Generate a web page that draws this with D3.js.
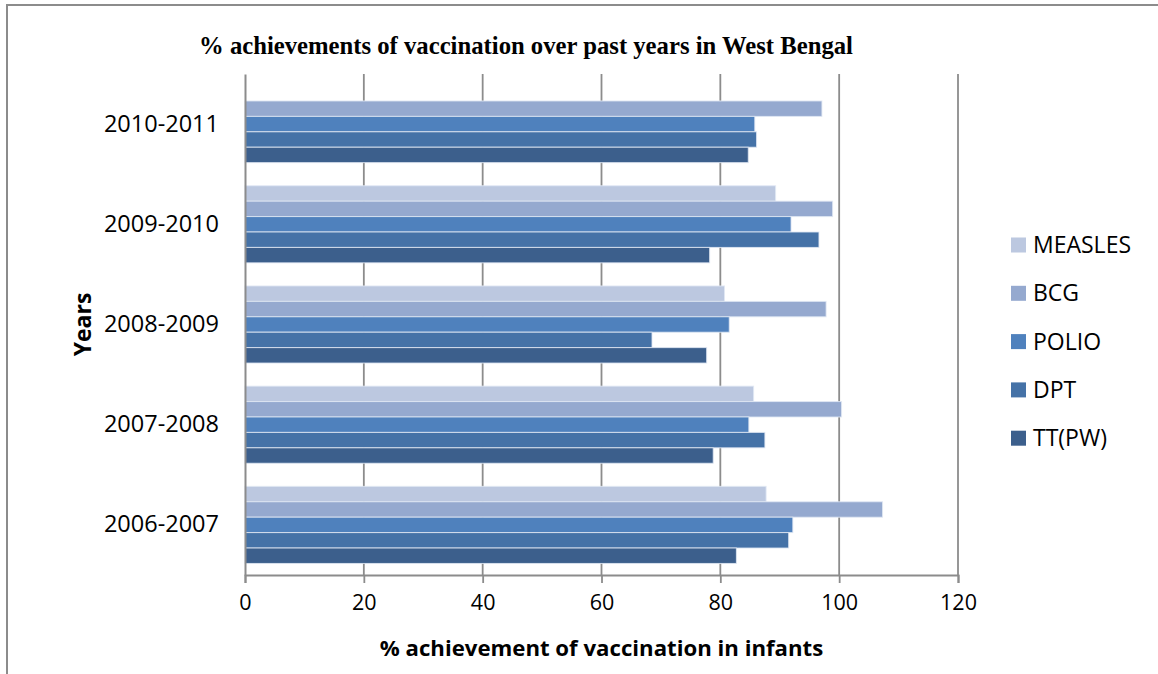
<!DOCTYPE html>
<html>
<head>
<meta charset="utf-8">
<script src="https://cdn.jsdelivr.net/npm/d3@7"></script>
<style>
  html, body { margin: 0; padding: 0; background: #fff; }
  svg { display: block; }
</style>
</head>
<body>
<svg id="chart" width="1158" height="674"></svg>
<script>
// Year groups, listed top to bottom as drawn
const years = ["2010-2011", "2009-2010", "2008-2009", "2007-2008", "2006-2007"];
// Vaccines, listed top to bottom inside each group
const vaccines = ["MEASLES", "BCG", "POLIO", "DPT", "TT(PW)"];

// % achievement per vaccine, in the same order as `years`
const measles = [0, 89.3, 80.7, 85.6, 87.7];
const bcg     = [97.1, 98.9, 97.8, 100.4, 107.3];
const polio   = [85.8, 91.9, 81.5, 84.8, 92.2];
const dpt     = [86.1, 96.6, 68.5, 87.5, 91.5];
const ttpw    = [84.7, 78.2, 77.7, 78.8, 82.7];

const xTicks = [0, 20, 40, 60, 80, 100, 120];
const colors = ["#bcc8e0", "#95a9cf", "#4f81bd", "#4572a7", "#3c5f8c"];

const seriesValues = [measles, bcg, polio, dpt, ttpw];
const rows = years.map((y, i) => ({
  year: y,
  values: vaccines.map((v, j) => ({ vaccine: v, value: seriesValues[j][i] }))
}));

const svg = d3.select("#chart");
const plot = { left: 245, right: 958, top: 74, bottom: 575 };

// Outer frame of the chart
svg.append("rect")
  .attr("x", 7).attr("y", 5)
  .attr("width", 1300).attr("height", 800)
  .attr("fill", "none").attr("stroke", "#8c8c8c").attr("stroke-width", 2);

const x = d3.scaleLinear().domain([0, 120]).range([plot.left, plot.right]);
const y0 = d3.scaleBand().domain(years).range([plot.top, plot.bottom]).padding(0);
const y1 = d3.scaleBand().domain(vaccines).range([0, y0.bandwidth()])
  .paddingInner(0).paddingOuter(0.75);
const color = d3.scaleOrdinal().domain(vaccines).range(colors);

// Vertical gridlines
svg.append("g")
  .selectAll("line")
  .data(xTicks.filter(t => t > 0))
  .join("line")
  .attr("x1", d => x(d)).attr("x2", d => x(d))
  .attr("y1", plot.top).attr("y2", plot.bottom)
  .attr("stroke", "#8c8c8c").attr("stroke-width", 1.8);

// Bars
svg.append("g")
  .selectAll("g")
  .data(rows)
  .join("g")
  .attr("transform", d => `translate(0,${y0(d.year)})`)
  .selectAll("rect")
  .data(d => d.values.filter(v => v.value > 0))
  .join("rect")
  .attr("x", x(0))
  .attr("y", d => y1(d.vaccine))
  .attr("width", d => x(d.value) - x(0))
  .attr("height", y1.bandwidth())
  .attr("fill", d => color(d.vaccine))
  .attr("stroke", "rgba(225,232,243,0.85)")
  .attr("stroke-width", 1);

// X axis
const xAxis = svg.append("g")
  .attr("transform", `translate(0,${plot.bottom})`)
  .call(d3.axisBottom(x).tickValues(xTicks).tickSize(8).tickPadding(12).tickFormat(d3.format("d")));
xAxis.select(".domain").attr("stroke", "#8c8c8c").attr("stroke-width", 2);
xAxis.selectAll(".tick line").attr("stroke", "#8c8c8c").attr("stroke-width", 1.8);
xAxis.selectAll(".tick text")
  .attr("fill", "#000")
  .style("font-family", "'Open Sans', sans-serif")
  .style("font-size", "21.5px");

// Y axis
const yAxis = svg.append("g")
  .attr("transform", `translate(${plot.left},0)`)
  .call(d3.axisLeft(y0).tickSize(0).tickPadding(26));
yAxis.select(".domain").attr("stroke", "#8c8c8c").attr("stroke-width", 2);
yAxis.selectAll(".tick text")
  .attr("fill", "#000")
  .style("font-family", "'Open Sans', sans-serif")
  .style("font-size", "23.5px");

// Title
svg.append("text")
  .attr("x", 526).attr("y", 54)
  .attr("text-anchor", "middle")
  .style("font-family", "'Liberation Serif', 'Times New Roman', serif")
  .style("font-weight", "bold")
  .style("font-size", "24.7px")
  .text("% achievements of vaccination over past years in West Bengal");

// Axis titles
svg.append("text")
  .attr("x", (plot.left + plot.right) / 2).attr("y", 656)
  .attr("text-anchor", "middle")
  .style("font-family", "'Open Sans', sans-serif")
  .style("font-weight", "bold")
  .style("font-size", "22.2px")
  .text("% achievement of vaccination in infants");

svg.append("text")
  .attr("transform", `translate(91,${(plot.top + plot.bottom) / 2}) rotate(-90)`)
  .attr("text-anchor", "middle")
  .style("font-family", "'Open Sans', sans-serif")
  .style("font-weight", "bold")
  .style("font-size", "23px")
  .text("Years");

// Legend
const legend = svg.append("g")
  .selectAll("g")
  .data(vaccines)
  .join("g")
  .attr("transform", (d, i) => `translate(1011,${245 + i * 48.3})`);
legend.append("rect")
  .attr("x", 0).attr("y", -7.5)
  .attr("width", 15).attr("height", 15)
  .attr("fill", d => color(d));
legend.append("text")
  .attr("x", 22).attr("y", 0)
  .attr("dy", "0.35em")
  .style("font-family", "'Open Sans', sans-serif")
  .style("font-size", "23px")
  .text(d => d);
</script>
</body>
</html>
